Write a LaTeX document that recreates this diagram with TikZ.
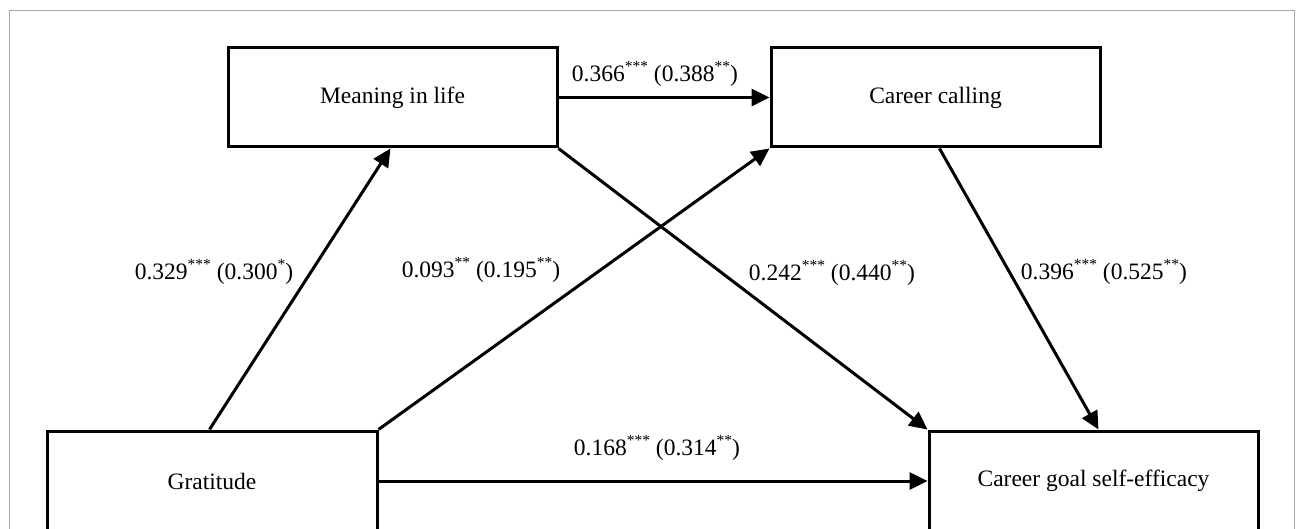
\documentclass[tikz,border=0pt]{standalone}
\usepackage{fontspec}
\setmainfont{Liberation Serif}
\usetikzlibrary{arrows.meta,calc}
\newcommand{\sig}[1]{\raisebox{0.4em}{\fontsize{15.5}{15.5}\selectfont #1}}
\tikzset{
  box/.style={draw=black,line width=3pt,minimum width=#1,minimum height=99pt,inner sep=0pt,font=\fontsize{23.5}{28}\selectfont},
  conn/.style={line width=3pt,-{Triangle[length=18pt,width=17pt]}},
  coef/.style={font=\fontsize{23.5}{28}\selectfont,inner sep=0pt},
}
\begin{document}
\begin{tikzpicture}[x=1pt,y=-1pt]
\useasboundingbox (0,0) rectangle (1296,529);
\clip (0,0) rectangle (1296,529);
\draw[black!35,line width=1pt] (9.5,11) rectangle (1294.8,560);
\node[box=329pt] (mean) at (392.5,97.5) {Meaning in life};
\node[box=329pt] (call) at (935.5,97.5) {Career calling};
\node[box=330pt,minimum height=100pt] (grat) at (212,481) {Gratitude};
\node[box=329pt,minimum height=100pt] (goal) at (1093.5,481) {Career goal self-efficacy};
\draw[conn] ($(grat.north west)+(164,0)$) -- ($(mean.south west)+(164,0)$);
\draw[conn] (grat.north east) -- (call.south west);
\draw[conn] (mean.south east) -- (goal.north west);
\draw[conn] ($(call.south west)+(170,0)$) -- ($(goal.north west)+(171,0)$);
\draw[conn] (mean.east) -- (call.west);
\draw[conn] (grat.east) -- (goal.west);
\node[coef] (l1) at (655,74) {0.366\sig{***} (0.388\sig{**})};
\node[coef] (l2) at (214,272) {0.329\sig{***} (0.300\sig{*})};
\node[coef] (l3) at (481,270) {0.093\sig{**} (0.195\sig{**})};
\node[coef] (l4) at (832,273) {0.242\sig{***} (0.440\sig{**})};
\node[coef] (l5) at (1104,272) {0.396\sig{***} (0.525\sig{**})};
\node[coef] (l6) at (657,448) {0.168\sig{***} (0.314\sig{**})};
\end{tikzpicture}
\end{document}
